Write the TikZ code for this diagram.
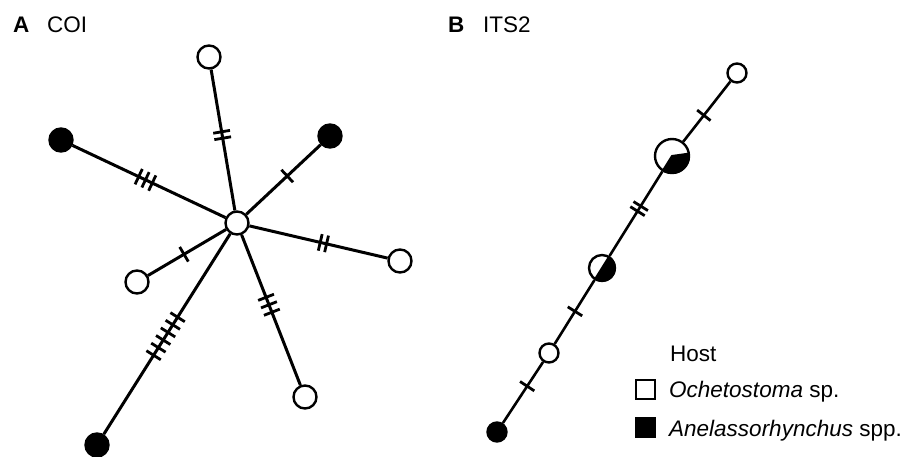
\documentclass[tikz,border=0pt]{standalone}
\usepackage{fontspec}
\setmainfont{Liberation Sans}
\usetikzlibrary{calc}
\newcommand\tkhalf{8.5pt}
\newcommand\hashes[5]{% from, to, fraction, count, spacing
  \foreach \k in {1,...,#4}{
    \pgfmathsetmacro\off{(\k-(#4+1)/2)*#5}
    \draw[tickline] ($(#1.center)!#3!(#2.center)!\off pt!(#2.center)!\tkhalf!90:(#2.center)$) --
                    ($(#1.center)!#3!(#2.center)!\off pt!(#2.center)!\tkhalf!-90:(#2.center)$);
  }
}
\begin{document}
\begin{tikzpicture}[x=1pt,y=-1pt,
  every node/.style={font=\fontsize{22.5}{27}\selectfont},
  lbl/.style={anchor=base west,inner sep=0pt},
  hapw/.style={circle,draw,fill=white,line width=2.4pt,minimum size=23pt,inner sep=0pt},
  hapb/.style={hapw,fill=black},
  edge/.style={line width=3pt},
  edgeb/.style={line width=2.6pt},
  tickline/.style={line width=2.8pt},
  sector/.style={fill=black,draw=black,line width=2pt,line join=round},
  legbox/.style={draw,fill=white,line width=2.2pt,minimum size=19pt,inner sep=0pt}]
\useasboundingbox (0,0) rectangle (907,457);
% titles
\node[lbl] (tA) at (13,33) {\textbf{A}};
\node[lbl] (tCOI) at (47,33) {COI};
\node[lbl] (tB) at (448,33) {\textbf{B}};
\node[lbl] (tITS) at (483,33) {ITS2};
% panel A
\node[hapw] (c) at (237,223) {};
\node[hapw] (a1) at (209,57) {};
\node[hapb] (a2) at (61,140) {};
\node[hapb] (a3) at (330,136) {};
\node[hapw] (a4) at (400,261) {};
\node[hapw] (a5) at (137,282) {};
\node[hapb] (a6) at (97,445) {};
\node[hapw] (a7) at (305,397) {};
\draw[edge] (c) -- (a1); \hashes{c}{a1}{0.53}{2}{6.5}
\draw[edge] (c) -- (a2); \hashes{c}{a2}{0.52}{3}{7.5}
\draw[edge] (c) -- (a3); \hashes{c}{a3}{0.54}{1}{0}
\draw[edge] (c) -- (a4); \hashes{c}{a4}{0.53}{2}{6.5}
\draw[edge] (c) -- (a5); \hashes{c}{a5}{0.53}{1}{0}
\draw[edge] (c) -- (a6); \hashes{c}{a6}{0.51}{6}{9}
\draw[edge] (c) -- (a7); \hashes{c}{a7}{0.47}{3}{8}
% panel B
\node[hapw,minimum size=19pt] (b1) at (737,73) {};
\node[hapw,minimum size=34pt] (b2) at (672,156) {};
\node[hapw,minimum size=26pt] (b3) at (602,268) {};
\node[hapw,minimum size=19pt] (b4) at (549,353) {};
\node[hapb,minimum size=19pt] (b5) at (497,432) {};
\filldraw[sector] (b2.center) -- ++(-8:17) arc[start angle=-8,end angle=122,radius=17] -- cycle;
\filldraw[sector] (b3.center) -- ++(-58:13) arc[start angle=-58,end angle=122,radius=13] -- cycle;
\draw[edgeb] (b5) -- (b4); \hashes{b5}{b4}{0.58}{1}{0}
\draw[edgeb] (b4) -- (b3); \hashes{b4}{b3}{0.49}{1}{0}
\draw[edgeb] (b3) -- (b2); \hashes{b3}{b2}{0.53}{2}{6}
\draw[edgeb] (b2) -- (b1); \hashes{b2}{b1}{0.49}{1}{0}
% legend
\node[lbl] (host) at (670,361) {Host};
\node[legbox] (lw) at (645.5,389.5) {};
\node[legbox,fill=black] (lb) at (645.5,427.5) {};
\node[lbl] (ochet) at (669,397) {\textit{Ochetostoma} sp.};
\node[lbl] (anel) at (669,436) {\textit{Anelassorhynchus} spp.};
\end{tikzpicture}
\end{document}
